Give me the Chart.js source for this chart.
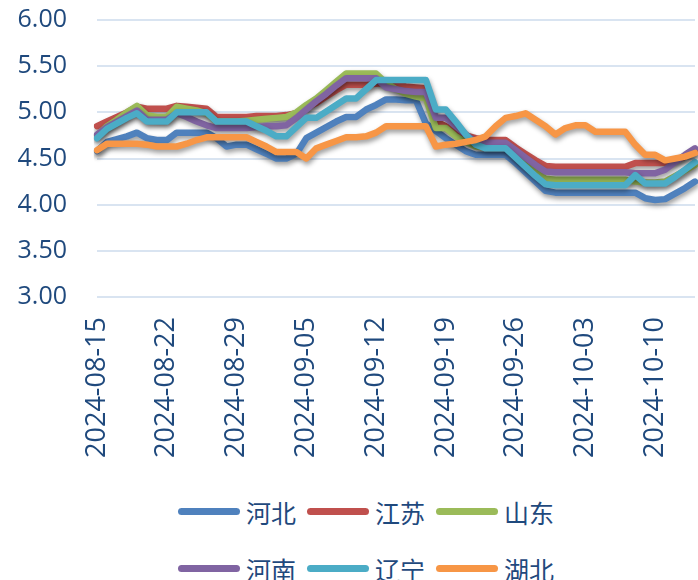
<!DOCTYPE html>
<html>
<head>
<meta charset="utf-8">
<script src="https://cdn.jsdelivr.net/npm/chart.js@4.4.1/dist/chart.umd.min.js"></script>
<style>
  html, body { margin: 0; padding: 0; background: #fff; }
  #wrap { position: relative; width: 698px; height: 580px; overflow: hidden; }
  #chart { position: absolute; left: 0; top: 0; }
  #legend { position: absolute; left: 178px; top: 483px; width: 420px; }
  .row { display: flex; height: 57px; align-items: center; }
  .item { display: flex; align-items: center; width: 129px; }
  .swatch { width: 62px; height: 7px; border-radius: 4px; margin-right: 6px; }
  .name { font-family: "Noto Sans CJK SC", sans-serif; font-size: 25px; color: #1F497D; }
</style>
</head>
<body>
<div id="wrap">
  <canvas id="chart" width="698" height="480"></canvas>
  <div id="legend"></div>
</div>
<script>
/* Regional price lines */

const dates = [
  "2024-08-15","2024-08-16","2024-08-17","2024-08-18","2024-08-19","2024-08-20","2024-08-21",
  "2024-08-22","2024-08-23","2024-08-24","2024-08-25","2024-08-26","2024-08-27","2024-08-28",
  "2024-08-29","2024-08-30","2024-08-31","2024-09-01","2024-09-02","2024-09-03","2024-09-04",
  "2024-09-05","2024-09-06","2024-09-07","2024-09-08","2024-09-09","2024-09-10","2024-09-11",
  "2024-09-12","2024-09-13","2024-09-14","2024-09-15","2024-09-16","2024-09-17","2024-09-18",
  "2024-09-19","2024-09-20","2024-09-21","2024-09-22","2024-09-23","2024-09-24","2024-09-25",
  "2024-09-26","2024-09-27","2024-09-28","2024-09-29","2024-09-30","2024-10-01","2024-10-02",
  "2024-10-03","2024-10-04","2024-10-05","2024-10-06","2024-10-07","2024-10-08","2024-10-09",
  "2024-10-10","2024-10-11","2024-10-12","2024-10-13","2024-10-14"
];

const hebei = [4.58,4.68,4.71,4.74,4.78,4.72,4.70,4.70,4.78,4.78,4.78,4.78,
  4.72,4.63,4.65,4.65,4.60,4.55,4.50,4.50,4.55,
  4.72,4.78,4.84,4.90,4.95,4.95,5.03,5.08,5.14,5.14,5.13,5.13,
  4.88,4.80,4.72,4.65,4.58,4.54,4.54,4.54,4.54,4.45,4.35,4.25,4.15,
  4.13,4.13,4.13,4.13,4.13,4.13,4.13,4.13,4.13,
  4.07,4.05,4.06,4.12,4.18,4.25];

const jiangsu = [4.85,4.90,4.95,5.00,5.06,5.04,5.04,5.04,5.07,5.06,5.05,5.04,
  4.95,4.95,4.95,4.95,4.96,4.96,4.96,4.97,4.99,
  5.05,5.10,5.17,5.24,5.30,5.30,5.30,5.31,5.32,5.30,5.28,5.27,5.26,
  4.90,4.85,4.80,4.75,4.72,4.70,4.70,4.70,4.62,4.55,4.48,4.42,
  4.41,4.41,4.41,4.41,4.41,4.41,4.41,4.41,
  4.45,4.45,4.45,4.45,4.48,4.52,4.57];

const shandong = [4.75,4.85,4.92,5.00,5.07,4.97,4.95,4.95,5.06,5.04,5.02,4.99,
  4.90,4.90,4.90,4.91,4.92,4.93,4.94,4.95,5.00,
  5.08,5.15,5.24,5.33,5.42,5.42,5.42,5.42,5.32,5.25,5.20,5.17,5.15,
  4.83,4.83,4.74,4.68,4.63,4.62,4.62,4.62,4.52,4.43,4.35,4.28,
  4.27,4.27,4.27,4.27,4.27,4.27,4.27,4.27,
  4.25,4.24,4.24,4.25,4.31,4.37,4.43];

const henan = [4.76,4.84,4.90,4.96,5.02,4.92,4.92,4.92,4.99,4.95,4.90,4.86,
  4.83,4.83,4.83,4.83,4.84,4.85,4.85,4.86,4.94,
  5.03,5.12,5.20,5.29,5.37,5.37,5.37,5.37,5.27,5.25,5.23,5.22,5.22,
  4.94,4.94,4.85,4.76,4.68,4.67,4.67,4.67,4.59,4.51,4.43,4.36,
  4.35,4.35,4.35,4.35,4.35,4.35,4.35,4.35,
  4.34,4.34,4.34,4.38,4.46,4.54,4.61];

const liaoning = [4.72,4.82,4.88,4.94,4.99,4.90,4.90,4.90,5.00,5.00,5.00,5.00,
  4.90,4.90,4.90,4.90,4.85,4.80,4.74,4.74,4.84,
  4.94,4.94,5.01,5.08,5.15,5.15,5.25,5.35,5.35,5.35,5.35,5.35,5.35,
  5.03,5.03,4.90,4.76,4.65,4.61,4.61,4.61,4.51,4.41,4.31,4.22,
  4.21,4.21,4.21,4.21,4.21,4.21,4.21,4.21,
  4.32,4.23,4.23,4.23,4.30,4.38,4.46];

const hubei = [4.59,4.66,4.66,4.66,4.66,4.65,4.63,4.63,4.63,4.66,4.70,4.73,
  4.73,4.73,4.73,4.73,4.68,4.63,4.57,4.57,4.57,
  4.50,4.61,4.65,4.69,4.73,4.73,4.74,4.78,4.85,4.85,4.85,4.85,4.85,
  4.63,4.65,4.66,4.68,4.70,4.74,4.85,4.94,4.96,4.99,4.92,4.85,
  4.76,4.83,4.86,4.86,4.79,4.79,4.79,4.79,
  4.65,4.54,4.54,4.48,4.50,4.52,4.56];

const seriesNames = ["河北", "江苏", "山东", "河南", "辽宁", "湖北"];
const seriesValues = [hebei, jiangsu, shandong, henan, liaoning, hubei];
const seriesColors = ["#4F81BD", "#C0504D", "#9BBB59", "#8064A2", "#4BACC6", "#F79646"];

const yTicks = [3.0, 3.5, 4.0, 4.5, 5.0, 5.5, 6.0];

const textColor = "#1F497D";

// soft drop shadow under the lines, like the spreadsheet original
const lineShadow = {
  id: "lineShadow",
  beforeDatasetsDraw(chart) {
    const c = chart.ctx;
    c.save();
    c.shadowColor = "rgba(0,0,0,0.4)";
    c.shadowBlur = 5;
    c.shadowOffsetX = 1;
    c.shadowOffsetY = 3;
  },
  afterDatasetsDraw(chart) {
    chart.ctx.restore();
  }
};

new Chart(document.getElementById("chart"), {

  type: "line",

  data: {
    labels: dates,
    datasets: seriesNames.map((name, i) => ({
      label: name,
      data: seriesValues[i],
      borderColor: seriesColors[i],
      backgroundColor: seriesColors[i],
      borderWidth: 6.5,
      borderJoinStyle: "round",
      borderCapStyle: "round",
      pointRadius: 0,
      tension: 0,
      order: seriesNames.length - i
    }))
  },

  options: {
    responsive: false,
    animation: false,
    layout: { padding: { top: 20, right: 3, left: 0, bottom: 0 } },
    plugins: {
      legend: { display: false },
      tooltip: { enabled: false }
    },
    scales: {
      x: {
        grid: { display: false, drawTicks: false },
        border: { display: false },
        ticks: {
          autoSkip: false,
          minRotation: 90,
          maxRotation: 90,
          padding: 20,
          color: textColor,
          font: { family: "'Open Sans', sans-serif", size: 27 },
          callback: (v, i) => (i % 7 === 0 ? dates[i] : "")
        },
        afterFit(scale) {
          scale.height = 183;
          scale.paddingLeft = 0;
          scale.paddingRight = 0;
        }
      },
      y: {
        min: 3,
        max: 6,
        grid: { color: "#D9E4F1", lineWidth: 2, drawTicks: false },
        border: { display: false },
        afterBuildTicks(scale) {
          scale.ticks = yTicks.map(v => ({ value: v }));
        },
        ticks: {
          padding: 30,
          color: textColor,
          font: { family: "'Open Sans', sans-serif", size: 25 },
          callback: v => Number(v).toFixed(2)
        },
        afterFit(scale) {
          scale.width = 97;
          scale.paddingTop = 0;
          scale.paddingBottom = 0;
        }
      }
    }
  },

  plugins: [lineShadow]

});

// legend: two rows of three, as in the original
const legendBox = document.getElementById("legend");
for (let r = 0; r < 2; r++) {
  const row = document.createElement("div");
  row.className = "row";
  for (let k = 0; k < 3; k++) {
    const i = r * 3 + k;
    const item = document.createElement("div");
    item.className = "item";
    const sw = document.createElement("div");
    sw.className = "swatch";
    sw.style.background = seriesColors[i];
    const nm = document.createElement("span");
    nm.className = "name";
    nm.textContent = seriesNames[i];
    item.appendChild(sw);
    item.appendChild(nm);
    row.appendChild(item);
  }
  legendBox.appendChild(row);
}
</script>
</body>
</html>
